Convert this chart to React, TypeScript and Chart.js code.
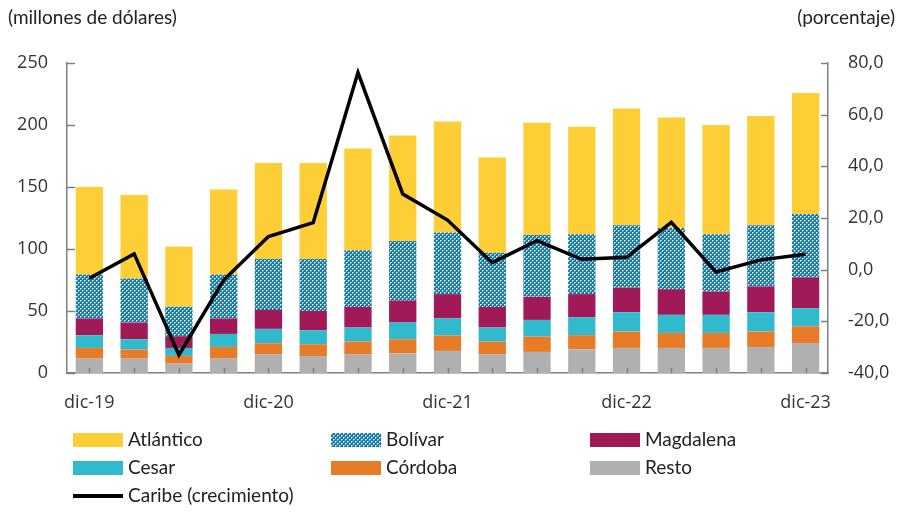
import React, { useEffect, useRef } from "react";
import { Chart, registerables } from "chart.js";

Chart.register(...registerables);

const categories = [
  "dic-19", "mar-20", "jun-20", "sep-20", "dic-20", "mar-21", "jun-21", "sep-21",
  "dic-21", "mar-22", "jun-22", "sep-22", "dic-22", "mar-23", "jun-23", "sep-23", "dic-23",
];
const resto = [11.6, 11.6, 7.6, 11.6, 14.9, 13.7, 14.9, 15.9, 17.8, 14.9, 17.0, 19.1, 20.2, 20.2, 20.2, 21.0, 24.2];
const cordoba = [8.6, 7.3, 6.2, 9.4, 9.1, 9.5, 10.5, 11.3, 12.4, 10.5, 12.4, 11.4, 13.2, 12.1, 12.1, 12.4, 13.5];
const cesar = [10.3, 8.3, 6.4, 10.5, 11.6, 11.3, 11.3, 13.5, 13.8, 11.3, 13.4, 14.5, 15.6, 14.6, 14.6, 15.6, 14.6];
const magdalena = [13.5, 13.5, 9.5, 12.5, 15.3, 15.6, 16.6, 17.8, 19.6, 16.6, 18.6, 18.6, 19.7, 20.7, 18.8, 20.8, 24.8];
const bolivar = [35.5, 35.6, 23.7, 35.5, 41.0, 41.8, 45.6, 47.9, 49.8, 43.7, 49.9, 48.2, 50.4, 49.3, 46.1, 49.3, 51.1];
const atlantico = [70.5, 67.3, 48.7, 68.4, 77.5, 77.5, 82.1, 85.1, 89.4, 76.7, 90.5, 86.7, 94.2, 89.2, 88.1, 88.1, 97.6];
const caribe = [-3.3, 6.1, -33.0, -4.0, 12.8, 18.2, 76.3, 29.3, 19.2, 2.7, 11.2, 4.0, 4.8, 18.3, -0.9, 3.8, 6.0];

const leftTicks = [0, 50, 100, 150, 200, 250];
const rightTicks = [-40, -20, 0, 20, 40, 60, 80];

const C_ATL = "#FDCE35";
const C_BOL = "#127AA8";
const C_MAG = "#A01A58";
const C_CES = "#31BACE";
const C_COR = "#E77B27";
const C_RES = "#B0B0B0";
const AXIS = "#808080";
const TEXT = "#333333";

function makePatternCanvas(): HTMLCanvasElement {
  const c = document.createElement("canvas");
  c.width = 4;
  c.height = 4;
  const g = c.getContext("2d")!;
  g.fillStyle = C_BOL;
  g.fillRect(0, 0, 4, 4);
  g.fillStyle = "#ffffff";
  g.fillRect(0, 0, 1, 1);
  g.fillRect(2, 2, 1, 1);
  g.fillStyle = "rgba(255,255,255,0.55)";
  g.fillRect(1, 0, 1, 1);
  g.fillRect(0, 1, 1, 1);
  g.fillRect(3, 2, 1, 1);
  g.fillRect(2, 3, 1, 1);
  return c;
}

const innerTicks = {
  id: "innerTicks",
  afterDraw(chart: any) {
    const ctx = chart.ctx;
    const { left, right, bottom } = chart.chartArea;
    ctx.save();
    ctx.strokeStyle = AXIS;
    ctx.lineWidth = 1.5;
    const y = chart.scales.y;
    const y1 = chart.scales.y1;
    const x = chart.scales.x;
    ctx.beginPath();
    leftTicks.forEach((v) => {
      const p = Math.round(y.getPixelForValue(v)) + 0.5;
      ctx.moveTo(left, p);
      ctx.lineTo(left + 8, p);
    });
    rightTicks.forEach((v) => {
      const p = Math.round(y1.getPixelForValue(v)) + 0.5;
      ctx.moveTo(right - 7, p);
      ctx.lineTo(right, p);
    });
    categories.forEach((_, i) => {
      const p = Math.round(x.getPixelForValue(i)) + 0.5;
      ctx.moveTo(p, bottom);
      ctx.lineTo(p, bottom - 5);
    });
    ctx.stroke();
    ctx.restore();
  },
};

export default function App() {
  const ref = useRef<HTMLCanvasElement | null>(null);
  const swatchRef = useRef<HTMLCanvasElement | null>(null);

  useEffect(() => {
    const patCanvas = makePatternCanvas();
    const ctx = ref.current!.getContext("2d")!;
    const pattern = ctx.createPattern(patCanvas, "repeat")!;

    if (swatchRef.current) {
      const sc = swatchRef.current.getContext("2d")!;
      sc.fillStyle = sc.createPattern(patCanvas, "repeat")!;
      sc.fillRect(0, 0, swatchRef.current.width, swatchRef.current.height);
    }

    const bar = (label: string, data: number[], color: any) => ({
      type: "bar" as const,
      label,
      data,
      backgroundColor: color,
      borderWidth: 0,
      yAxisID: "y",
      order: 1,
      barPercentage: 0.61,
      categoryPercentage: 1,
    });

    const tickFont = { family: "Open Sans", size: 18 };

    const chart = new Chart(ref.current!, {
      type: "bar",
      data: {
        labels: categories,
        datasets: [
          {
            type: "line",
            label: "Caribe (crecimiento)",
            data: caribe,
            borderColor: "#000000",
            borderWidth: 3.5,
            pointRadius: 0,
            tension: 0,
            yAxisID: "y1",
            order: 0,
          } as any,
          bar("Resto", resto, C_RES),
          bar("Córdoba", cordoba, C_COR),
          bar("Cesar", cesar, C_CES),
          bar("Magdalena", magdalena, C_MAG),
          bar("Bolívar", bolivar, pattern),
          bar("Atlántico", atlantico, C_ATL),
        ],
      },
      options: {
        responsive: false,
        animation: false,
        layout: { padding: { left: 0, right: 0, top: 63, bottom: 103 } },
        plugins: { legend: { display: false }, tooltip: { enabled: false } },
        scales: {
          x: {
            stacked: true,
            offset: true,
            grid: { display: false },
            border: { display: true, color: AXIS, width: 1.5 },
            ticks: {
              autoSkip: false,
              maxRotation: 0,
              color: TEXT,
              font: tickFont,
              padding: 11,
              callback: (_v: any, i: number) => (i % 4 === 0 ? categories[i] : ""),
            },
            afterFit: (s: any) => {
              s.height = 40;
            },
          },
          y: {
            stacked: true,
            position: "left",
            min: 0,
            max: 250,
            grid: { display: false, drawTicks: false },
            border: { display: true, color: AXIS, width: 1.5 },
            ticks: { stepSize: 50, color: TEXT, font: tickFont, padding: 19 },
            afterFit: (s: any) => {
              s.width = 67;
            },
          },
          y1: {
            position: "right",
            min: -40,
            max: 80,
            grid: { display: false, drawTicks: false },
            border: { display: true, color: AXIS, width: 1.5 },
            ticks: {
              stepSize: 20,
              color: TEXT,
              font: tickFont,
              padding: 20,
              callback: (v: any) => Number(v).toFixed(1).replace(".", ","),
            },
            afterFit: (s: any) => {
              s.width = 77;
            },
          },
        },
      },
      plugins: [innerTicks],
    });
    return () => chart.destroy();
  }, []);

  const legendFont: React.CSSProperties = {
    position: "absolute",
    fontFamily: "Lato, sans-serif",
    fontSize: 19,
    color: "#222",
    lineHeight: "22px",
    whiteSpace: "nowrap",
  };

  const legendItems: { label: string; color: string | null; x: number; y: number; kind: string }[] = [
    { label: "Atlántico", color: C_ATL, x: 73, y: 440, kind: "box" },
    { label: "Bolívar", color: null, x: 331, y: 440, kind: "pattern" },
    { label: "Magdalena", color: C_MAG, x: 590, y: 440, kind: "box" },
    { label: "Cesar", color: C_CES, x: 73, y: 468, kind: "box" },
    { label: "Córdoba", color: C_COR, x: 331, y: 468, kind: "box" },
    { label: "Resto", color: C_RES, x: 590, y: 468, kind: "box" },
    { label: "Caribe (crecimiento)", color: "#000", x: 73, y: 496, kind: "line" },
  ];

  return (
    <div style={{ position: "absolute", left: 0, top: 0, width: 905, height: 516, background: "#fff" }}>
      <canvas ref={ref} width={905} height={516} style={{ position: "absolute", left: 0, top: 0 }} />
      <div style={{ ...legendFont, left: 8, top: 6 }}>(millones de dólares)</div>
      <div style={{ ...legendFont, right: 10, top: 6 }}>(porcentaje)</div>
      {legendItems.map((it) => (
        <React.Fragment key={it.label}>
          {it.kind === "box" && (
            <div style={{ position: "absolute", left: it.x, top: it.y - 7, width: 50, height: 14, background: it.color! }} />
          )}
          {it.kind === "pattern" && (
            <canvas ref={swatchRef} width={50} height={14} style={{ position: "absolute", left: it.x, top: it.y - 7 }} />
          )}
          {it.kind === "line" && (
            <div style={{ position: "absolute", left: it.x, top: it.y - 2, width: 50, height: 3.5, background: "#000" }} />
          )}
          <div style={{ ...legendFont, left: it.x + 55, top: it.y - 12 }}>{it.label}</div>
        </React.Fragment>
      ))}
    </div>
  );
}
